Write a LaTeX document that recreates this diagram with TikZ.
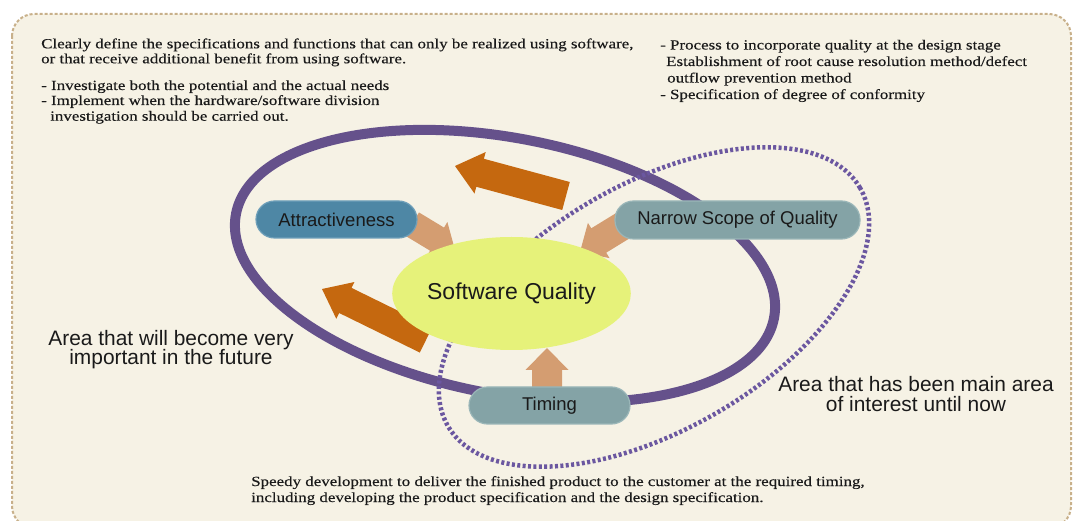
\documentclass[tikz,border=0pt]{standalone}
\usepackage{fontspec}
\setmainfont{Liberation Serif}
\newfontfamily\serifw{Liberation Serif}[FakeStretch=1.21,FakeBold=0.3]
\newfontfamily\sansw{Liberation Sans}
\usetikzlibrary{calc,shapes.geometric}
\definecolor{cream}{HTML}{F6F2E5}
\definecolor{bordertan}{HTML}{C8B08A}
\definecolor{ringpurple}{HTML}{65518B}
\definecolor{dotpurple}{HTML}{6B57A0}
\definecolor{bigorange}{HTML}{C5680F}
\definecolor{lighttan}{HTML}{D49D71}
\definecolor{sqyellow}{HTML}{E6F27A}
\definecolor{attrblue}{HTML}{4E87A5}
\definecolor{attredge}{HTML}{6E9FB9}
\definecolor{grayteal}{HTML}{84A3A6}
\definecolor{tealedge}{HTML}{9AB6B8}
\definecolor{inktext}{HTML}{1A1A1A}
\newcommand\blockarrow[7]{% #1 style, #2 name, #3 start, #4 tip, #5 shaft half, #6 head half, #7 head length
  \coordinate (#2h) at ($(#4)!#7!(#3)$);
  \fill[#1] ($(#3)!#5!90:(#4)$) -- ($(#2h)!#5!90:(#4)$) -- ($(#2h)!#6!90:(#4)$) -- (#4)
    -- ($(#2h)!#6!-90:(#4)$) -- ($(#2h)!#5!-90:(#4)$) -- ($(#3)!#5!-90:(#4)$) -- cycle;}
\tikzset{
  pill/.style={rectangle, rounded corners=18.5pt, minimum height=37pt, inner sep=0pt,
    line width=1.2pt, text=inktext, font=\sansw\fontsize{18.5}{20}\selectfont},
  bodytext/.style={anchor=base west, inner sep=0pt, text=inktext,
    font=\serifw\fontsize{14}{15}\selectfont},
  arealabel/.style={anchor=base, inner sep=0pt, text=inktext,
    font=\sansw\fontsize{20.9}{20}\selectfont},
  ring/.style={draw=ringpurple, line width=10pt},
  dotring/.style={draw=dotpurple, line width=4.5pt, dash pattern=on 3pt off 2.4pt},
  orangearrow/.style={fill=bigorange},
  tanarrow/.style={fill=lighttan}
}
\begin{document}
\begin{tikzpicture}[x=1pt,y=-1pt]
\useasboundingbox (0,0) rectangle (1080,521);
\clip (0,0) rectangle (1080,521);
\fill[white] (0,0) rectangle (1080,521);
\draw[draw=bordertan, fill=cream, line width=2pt, dash pattern=on 3pt off 2pt, rounded corners=22pt]
  (12,14) rectangle (1071,528);
% rings
\draw[ring, rotate around={-11:(505,266)}] (505,266) ellipse [x radius=274pt, y radius=128pt];
\draw[dotring, rotate around={30:(654,307)}] (654,307) ellipse [x radius=238pt, y radius=123pt];
% big orange arrows
\coordinate (o1s) at (566,196); \coordinate (o1e) at (455,166);
\coordinate (o2s) at (426,340); \coordinate (o2e) at (322,289);
\blockarrow{orangearrow}{o1}{o1s}{o1e}{14.5pt}{21.5pt}{26pt}
\blockarrow{orangearrow}{o2}{o2s}{o2e}{14pt}{20.5pt}{26pt}
% tan arrows to centre
\coordinate (t1s) at (412,224); \coordinate (t1e) at (455,250);
\coordinate (t2s) at (624,225); \coordinate (t2e) at (580,252);
\coordinate (t3s) at (547,390); \coordinate (t3e) at (547,348);
\blockarrow{tanarrow}{t1}{t1s}{t1e}{13.5pt}{20pt}{21pt}
\blockarrow{tanarrow}{t2}{t2s}{t2e}{14.3pt}{20.7pt}{22pt}
\blockarrow{tanarrow}{t3}{t3s}{t3e}{15pt}{21.5pt}{22pt}
% nodes
\node[pill, fill=attrblue, draw=attredge, minimum width=161pt] (attr) at (336.5,219.5) {Attractiveness};
\node[pill, fill=grayteal, draw=tealedge, minimum width=245pt, minimum height=38pt] (nsq) at (737.5,220) {Narrow Scope of Quality};
\node[pill, fill=grayteal, draw=tealedge, minimum width=161pt] (tim) at (549.5,405.5) {Timing};
\node[ellipse, fill=sqyellow, minimum width=183pt, minimum height=113pt, inner sep=0pt,
  text=inktext, font=\sansw\fontsize{23}{24}\selectfont] (sq) at (511.5,293.5) {Software Quality};
% area labels
\node[arealabel] (la1) at (171,346) {Area that will become very};
\node[arealabel] (la2) at (171,365) {important in the future};
\node[arealabel] (ra1) at (916,392) {Area that has been main area};
\node[arealabel] (ra2) at (916,412) {of interest until now};
% top-left text
\node[bodytext] (tl1) at (41,48.3) {Clearly define the specifications and functions that can only be realized using software,};
\node[bodytext] (tl2) at (41,63.3) {or that receive additional benefit from using software.};
\node[bodytext] (tl3) at (41,90) {- Investigate both the potential and the actual needs};
\node[bodytext] (tl4) at (41,105) {- Implement when the hardware/software division};
\node[bodytext] (tl5) at (50,120.7) {investigation should be carried out.};
% top-right text
\node[bodytext] (tr1) at (660,49.5) {- Process to incorporate quality at the design stage};
\node[bodytext] (tr2) at (666,66) {Establishment of root cause resolution method/defect};
\node[bodytext] (tr3) at (667,82.5) {outflow prevention method};
\node[bodytext] (tr4) at (660,99) {- Specification of degree of conformity};
% bottom text
\node[bodytext] (b1) at (251,486) {Speedy development to deliver the finished product to the customer at the required timing,};
\node[bodytext] (b2) at (251,502) {including developing the product specification and the design specification.};
\end{tikzpicture}
\end{document}
